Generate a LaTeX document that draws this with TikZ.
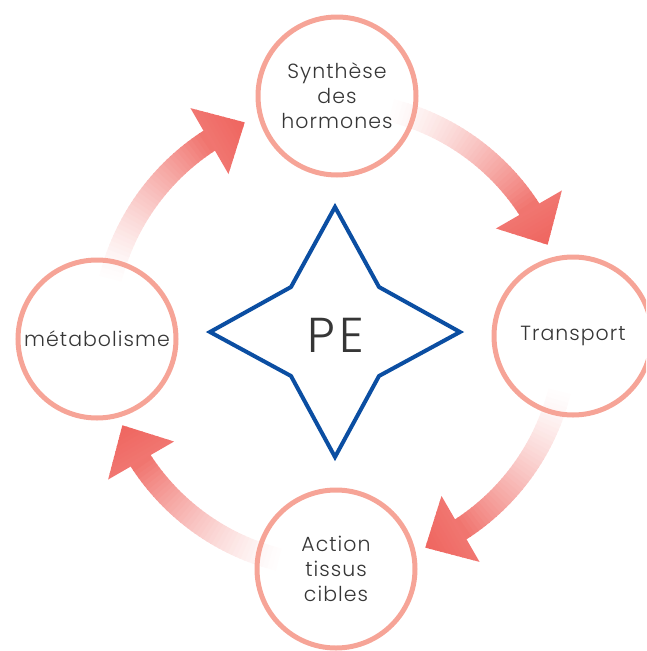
\documentclass[tikz,border=0pt]{standalone}
\usepackage{fontspec}
\setmainfont{Poppins Light}[LetterSpace=5]
\newfontfamily\pefont{Poppins Light}[LetterSpace=10]
\usetikzlibrary{calc}
\definecolor{ring}{HTML}{F6A497}
\definecolor{arr}{HTML}{EF6660}
\definecolor{starblue}{HTML}{0B4EA2}
\definecolor{txt}{HTML}{363636}
\tikzset{
  ringnode/.style={circle, draw=ring, line width=5pt, minimum size=158pt, inner sep=0pt,
    text=txt, font=\fontsize{20.5}{25}\selectfont, align=center},
  starline/.style={draw=starblue, line width=4pt, line join=miter},
}
\begin{document}
\begin{tikzpicture}[x=1pt,y=-1pt]
\useasboundingbox (0,0) rectangle (646,651);
\clip (0,0) rectangle (646,651);
% curved gradient arrows
\foreach \k in {0,1,2,3}{
  \begin{scope}[shift={(335,335)}, rotate=90*\k]
    \foreach \i in {0,...,39}{
      \pgfmathsetmacro\a{-77+44*\i/40}
      \pgfmathsetmacro\b{-77+44*(\i+1.3)/40}
      \pgfmathsetmacro\p{92*((\i+0.5)/40)^1.4}
      \fill[arr!\p!white] (\a:220) arc[start angle=\a, end angle=\b, radius=220]
        -- (\b:243) arc[start angle=\b, end angle=\a, radius=243] -- cycle;
    }
    \coordinate (hA\k) at (-33.5:193);
    \coordinate (hB\k) at (-32.5:269);
    \coordinate (hT\k) at (-23:231);
    \foreach \j in {0,...,9}{
      \pgfmathsetmacro\ta{\j/10}
      \pgfmathsetmacro\tb{min(1,(\j+1.2)/10)}
      \pgfmathsetmacro\q{90+10*\j/9}
      \fill[arr!\q!white] ($(hA\k)!\ta!(hT\k)$) -- ($(hA\k)!\tb!(hT\k)$)
        -- ($(hB\k)!\tb!(hT\k)$) -- ($(hB\k)!\ta!(hT\k)$) -- cycle;
    }
  \end{scope}
}
% circles
\node[ringnode] (syn) at (337,96) {Synthèse\\des\\hormones};
\node[ringnode] (tra) at (573,336) {Transport};
\node[ringnode] (act) at (336,569) {Action\\tissus\\cibles};
\node[ringnode] (met) at (97,339) {métabolisme};
% star
\node[text=txt, font=\pefont\fontsize{49}{49}\selectfont, inner sep=0pt] (pe) at (336,335.5) {PE};
\draw[starline] (335,207) -- (379,287) -- (460,332) -- (379,376) -- (335,457)
  -- (291,376) -- (210,332) -- (291,287) -- cycle;
\end{tikzpicture}
\end{document}
